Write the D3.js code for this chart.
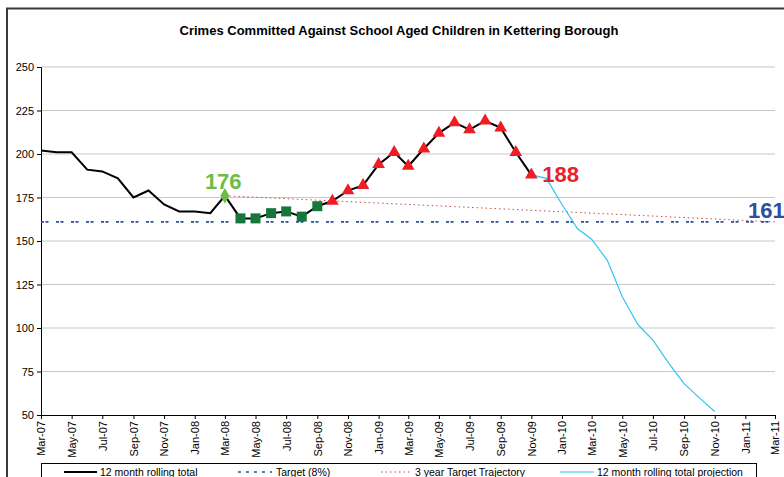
<!DOCTYPE html>
<html><head><meta charset="utf-8">
<script src="https://cdn.jsdelivr.net/npm/d3@7/dist/d3.min.js"></script>
<style>body{margin:0;background:#fff}svg{display:block;font-family:"Liberation Sans",Arial,sans-serif}</style>
</head><body><svg id="c" width="784" height="477"></svg>
<script>
const title = "Crimes Committed Against School Aged Children in Kettering Borough";
const rollingMonths = ["Mar-07","Apr-07","May-07","Jun-07","Jul-07","Aug-07","Sep-07","Oct-07","Nov-07","Dec-07","Jan-08","Feb-08","Mar-08","Apr-08","May-08","Jun-08","Jul-08","Aug-08","Sep-08","Oct-08","Nov-08","Dec-08","Jan-09","Feb-09","Mar-09","Apr-09","May-09","Jun-09","Jul-09","Aug-09","Sep-09","Oct-09","Nov-09"];
const rollingValues = [202,201,201,191,190,186,175,179,171,167,167,166,176,163,163,166,167,164,170,173,179,182,194,201,193,203,212,218,214,219,215,201,188];
const diamondMonths = ["Mar-08"];
const squareMonths = ["Apr-08","May-08","Jun-08","Jul-08","Aug-08","Sep-08"];
const triangleMonths = ["Oct-08","Nov-08","Dec-08","Jan-09","Feb-09","Mar-09","Apr-09","May-09","Jun-09","Jul-09","Aug-09","Sep-09","Oct-09","Nov-09"];
const projectionMonths = ["Nov-09","Dec-09","Jan-10","Feb-10","Mar-10","Apr-10","May-10","Jun-10","Jul-10","Aug-10","Sep-10","Oct-10","Nov-10"];
const projectionValues = [188,186,171,157,151,139,118,102,93,80,68,60,52];
const targetMonths = ["Mar-07","Mar-11"];
const targetValues = [161,161];
const trajectoryMonths = ["Mar-08","Mar-09","Mar-10","Mar-11"];
const trajectoryValues = [176,171,166,161];
const yTicks = [50,75,100,125,150,175,200,225,250];
const xDomain = ["Mar-07","Mar-11"];
const callouts = [
  {month:"Mar-08", value:176, text:"176", color:"#6cbd45"},
  {month:"Nov-09", value:188, text:"188", color:"#e8202a"},
  {month:"Mar-11", value:161, text:"161", color:"#2e4f9f"}
];
const legendItems = [
  {label:"12 month rolling total", kind:"rolling"},
  {label:"Target (8%)", kind:"target"},
  {label:"3 year Target Trajectory", kind:"trajectory"},
  {label:"12 month rolling total projection", kind:"projection"}
];

const parse = d3.timeParse("%b-%y");
const svg = d3.select("#c");
const L=41, R=775, T=67, B=415;
const x = d3.scaleTime().domain(xDomain.map(parse)).range([L,R]);
const y = d3.scaleLinear().domain([50,250]).range([B,T]);

// outer frame
svg.append("rect").attr("x",7).attr("y",8.5).attr("width",800).attr("height",500)
  .attr("fill","none").attr("stroke","#3a3a3a").attr("stroke-width",2);

svg.append("text").attr("x",399).attr("y",35).attr("text-anchor","middle")
  .attr("font-weight","bold").attr("font-size",13).text(title);

// gridlines
svg.append("g").selectAll("line").data(yTicks.slice(1)).join("line")
  .attr("x1",L).attr("x2",R).attr("y1",d=>y(d)).attr("y2",d=>y(d))
  .attr("stroke","#c8c8c8").attr("stroke-width",1.2);

// y axis
const ya = svg.append("g").attr("transform",`translate(${L},0)`)
  .call(d3.axisLeft(y).tickValues(yTicks).tickSize(4).tickPadding(3));
ya.select(".domain").attr("stroke","#000");
ya.selectAll("text").attr("font-size",11).attr("font-family","Liberation Sans, Arial").attr("fill","#000");

// x axis
const xa = svg.append("g").attr("transform",`translate(0,${B})`)
  .call(d3.axisBottom(x).ticks(d3.timeMonth.every(2)).tickFormat(d3.timeFormat("%b-%y")).tickSize(4));
xa.select(".domain").attr("stroke","#000");
xa.selectAll("text").attr("font-size",11).attr("font-family","Liberation Sans, Arial").attr("fill","#000")
  .attr("transform","rotate(-90)").attr("text-anchor","end").attr("x",-6).attr("y",0).attr("dy","0.35em");

const line = d3.line().x(d=>x(parse(d[0]))).y(d=>y(d[1]));

// target
svg.append("path").datum(d3.zip(targetMonths,targetValues)).attr("d",line)
  .attr("fill","none").attr("stroke","#2e4f9f").attr("stroke-width",1.6).attr("stroke-dasharray","3,1.5,3,7.5");
// trajectory
svg.append("path").datum(d3.zip(trajectoryMonths,trajectoryValues)).attr("d",line)
  .attr("fill","none").attr("stroke","#c0504d").attr("stroke-width",1).attr("stroke-dasharray","1.5,3");
// projection
svg.append("path").datum(d3.zip(projectionMonths,projectionValues)).attr("d",line)
  .attr("fill","none").attr("stroke","#33c3f0").attr("stroke-width",1.2);
// rolling
svg.append("path").datum(d3.zip(rollingMonths,rollingValues)).attr("d",line)
  .attr("fill","none").attr("stroke","#000").attr("stroke-width",2);

const valOf = m => rollingValues[rollingMonths.indexOf(m)];
svg.append("g").selectAll("path").data(diamondMonths).join("path")
  .attr("d",d3.symbol(d3.symbolDiamond,70)())
  .attr("transform",m=>`translate(${x(parse(m))},${y(valOf(m))})`).attr("fill","#6cbd45");
svg.append("g").selectAll("rect").data(squareMonths).join("rect")
  .attr("x",m=>x(parse(m))-5).attr("y",m=>y(valOf(m))-5).attr("width",10).attr("height",10)
  .attr("fill","#17773a");
svg.append("g").selectAll("path").data(triangleMonths).join("path")
  .attr("d",d3.symbol(d3.symbolTriangle,70)())
  .attr("transform",m=>`translate(${x(parse(m))},${y(valOf(m))})`).attr("fill","#ee1c25");

// callouts
const off = {"176":[-20,-7],"188":[11,7],"161":[-27,-4]};
svg.append("g").selectAll("text").data(callouts).join("text")
  .attr("x",d=>x(parse(d.month))+off[d.text][0]).attr("y",d=>y(d.value)+off[d.text][1])
  .attr("font-size",22).attr("font-weight","bold").attr("fill",d=>d.color).text(d=>d.text);

// legend
svg.append("rect").attr("x",41.5).attr("y",463.5).attr("width",715).attr("height",40)
  .attr("fill","#fff").attr("stroke","#000").attr("stroke-width",1);
const lx = [[64,97,100],[238,272,276],[381,412,415],[560,594,597]];
const ly = 472;
legendItems.forEach((it,i)=>{
  const [a,b,t] = lx[i];
  const ln = svg.append("line").attr("x1",a).attr("x2",b).attr("y1",ly).attr("y2",ly);
  if(it.kind==="rolling") ln.attr("stroke","#000").attr("stroke-width",2);
  if(it.kind==="target") ln.attr("stroke","#2e4f9f").attr("stroke-width",1.6).attr("stroke-dasharray","3,5");
  if(it.kind==="trajectory") ln.attr("stroke","#c0504d").attr("stroke-width",1).attr("stroke-dasharray","1.5,3");
  if(it.kind==="projection") ln.attr("stroke","#33c3f0").attr("stroke-width",1.2);
  svg.append("text").attr("x",t).attr("y",ly+4).attr("font-size",10.5).text(it.label);
});
</script></body></html>
